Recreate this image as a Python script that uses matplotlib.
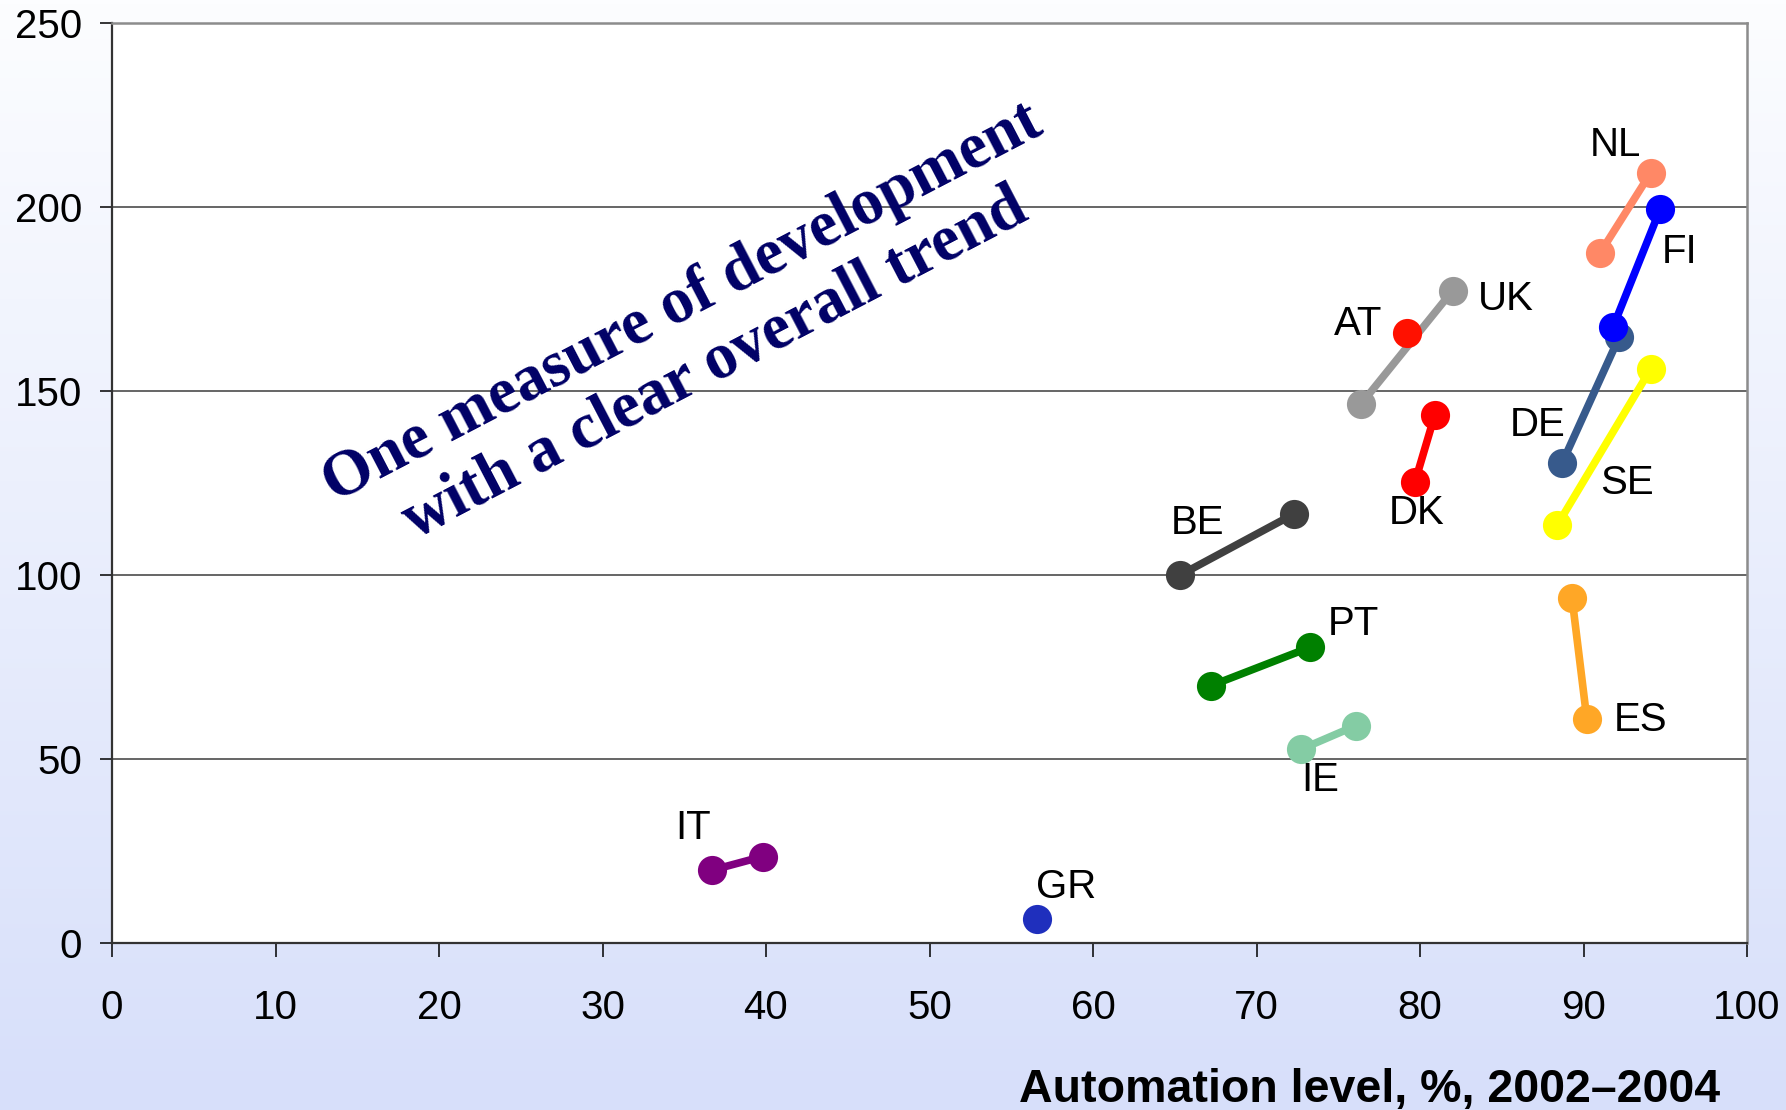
import numpy as np
import matplotlib
matplotlib.use('Agg')
import matplotlib.pyplot as plt

# country, first point, second point (nan = single point), label offset in points
countries = ['IT', 'GR', 'BE', 'PT', 'IE', 'ES', 'UK', 'AT', 'DK', 'DE', 'FI', 'SE', 'NL']
x_first = [36.7, 56.6, 65.3, 73.3, 72.7, 90.2, 82.0, 79.2, 79.7, 88.7, 94.7, 88.4, 94.1]
y_first = [19.8, 6.5, 99.9, 80.4, 52.6, 61.0, 177.3, 165.7, 125.4, 130.5, 199.5, 113.6, 209.2]
x_second = [39.8, np.nan, 72.3, 67.2, 76.1, 89.3, 76.4, np.nan, 80.9, 92.2, 91.8, 94.1, 91.0]
y_second = [23.5, np.nan, 116.6, 69.9, 59.1, 93.7, 146.5, np.nan, 143.4, 164.8, 167.3, 155.9, 187.4]
colors = ['#800080', '#1f2fbd', '#404040', '#008000', '#84cca4', '#ffa726',
          '#999999', '#ff1100', '#ff0000', '#375a8c', '#0000ff', '#ffff00', '#ff8866']
label_dx = [-14, 21, 13, 31, 14, 39, 38, -35, 1, -18, 14, 50, -25]
label_dy = [30, 23, 38, 17, -22, -1, -6, 7, -23, 27, -31, 30, 20]

x_ticks = list(range(0, 101, 10))
y_ticks = [0, 50, 100, 150, 200, 250]
x_label = 'Automation level, %, 2002\u20132004'
note = 'One measure of development\nwith a clear overall trend'

plt.rcParams['font.family'] = ['Liberation Sans', 'DejaVu Sans']

W, H = 1786, 1110
fig = plt.figure(figsize=(W / 100, H / 100), dpi=100)

# background gradient, white at the top to pale blue at the bottom
bg = fig.add_axes([0, 0, 1, 1], zorder=-10)
top = np.array([252, 253, 255]) / 255
bottom = np.array([215, 223, 250]) / 255
t = np.linspace(0, 1, 256)[:, None]
grad = (top * (1 - t) + bottom * t)[:, None, :]
bg.imshow(grad, aspect='auto', extent=[0, 1, 0, 1])
bg.axis('off')

ax = fig.add_axes([112 / W, 1 - 943 / H, (1747 - 112) / W, (943 - 23) / H])
ax.set_facecolor('white')

for i, c in enumerate(countries):
    xs = [x_first[i], x_second[i]]
    ys = [y_first[i], y_second[i]]
    ax.plot(xs, ys, '-', color=colors[i], lw=5.5, solid_capstyle='round',
            marker='o', markersize=21, markeredgewidth=0, zorder=3 + i * 0.1)
    ax.annotate(c, (x_first[i], y_first[i]), xytext=(label_dx[i], label_dy[i]),
                textcoords='offset points', ha='center', va='center',
                fontsize=29, color='black', zorder=5)

ax.set_xlim(0, 100)
ax.set_ylim(0, 250)
ax.set_xticks(x_ticks)
ax.set_yticks(y_ticks)
ax.yaxis.grid(True, color='#3c3c3c', lw=1.1)
ax.set_axisbelow(True)
ax.tick_params(axis='x', direction='out', length=10, width=1.1, pad=23,
               labelsize=29, colors='black')
ax.tick_params(axis='y', direction='out', length=8.5, width=1.1, pad=13,
               labelsize=29, colors='black')
for side in ['left', 'bottom']:
    ax.spines[side].set_color('#333333')
    ax.spines[side].set_linewidth(1.6)
for side in ['top', 'right']:
    ax.spines[side].set_color('#8c8c8c')
    ax.spines[side].set_linewidth(1.8)

fig.text(1720 / W, 1 - 1102 / H, x_label, ha='right', va='baseline',
         fontsize=33.5, fontweight='bold', color='black')

fig.text(699 / W, 1 - 334 / H, note, ha='center', va='center', rotation=27.5,
         rotation_mode='anchor', multialignment='center', linespacing=1.2,
         fontsize=46.5, fontweight='bold', color='#000066',
         family=['Liberation Serif', 'DejaVu Serif'])

fig.savefig('out.png', dpi=100)
